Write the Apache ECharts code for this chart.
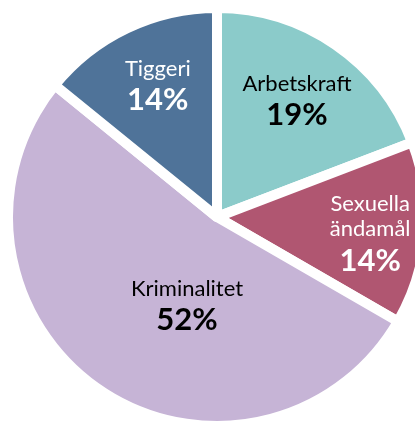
<!DOCTYPE html>
<html>
<head>
<meta charset="utf-8">
<script src="https://cdn.jsdelivr.net/npm/echarts@6/dist/echarts.min.js"></script>
<style>
html,body{margin:0;padding:0;background:#fff;}
#chart{width:415px;height:423px;}
</style>
</head>
<body>
<div id="chart"></div>
<script>
// data
var names=['Arbetskraft','Sexuella\nändamål','Kriminalitet','Tiggeri'];
var values=[19,14,52,14];
var colors=['#8bcbca','#b05671','#c6b4d6','#4f7399'];
var textColors=['#000','#fff','#000','#fff'];
// label shift from the default inside position
var labelDx=[19,46,31,-13];
var labelDy=[-26,10,2,-32];

function init(){
    var myChart=echarts.init(document.getElementById('chart'));
    var data=[];
    for(var i=0;i<names.length;i++){
        data.push({
            name:names[i],
            value:values[i],
            itemStyle:{color:colors[i]},
            label:{color:textColors[i]}
        });
    };
    var option={
        animation:false,
        series:[{
            type:'pie',
            center:[217,217],
            radius:209,
            startAngle:90,
            clockwise:true,
            silent:true,
            itemStyle:{borderColor:'#fff',borderWidth:10},
            label:{
                show:true,
                position:'inside',
                fontFamily:'Lato',
                formatter:function(p){
                    var lines=p.name.split('\n');
                    var s=[];
                    for(var j=0;j<lines.length;j++) s.push('{n|'+lines[j]+'}');
                    s.push('{p|'+p.value+'%}');
                    return s.join('\n');
                },
                rich:{
                    n:{fontFamily:'Lato',fontSize:22,lineHeight:25},
                    p:{fontFamily:'Lato',fontSize:31,fontWeight:'bold',lineHeight:38}
                }
            },
            labelLine:{show:false},
            labelLayout:function(params){
                return {dx:labelDx[params.dataIndex],dy:labelDy[params.dataIndex]};
            },
            data:data
        }]
    };
    myChart.setOption(option);
}
init();
</script>
</body>
</html>
